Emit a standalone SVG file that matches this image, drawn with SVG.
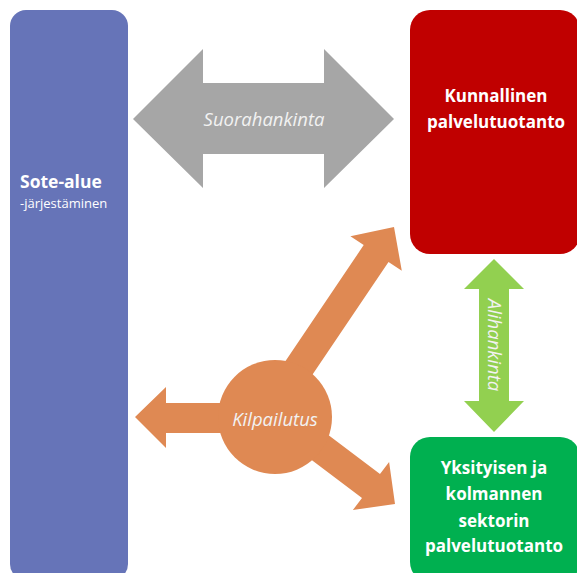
<svg xmlns="http://www.w3.org/2000/svg" width="577" height="573" viewBox="0 0 577 573">
<style>
.t{font-family:"Open Sans","Liberation Sans",sans-serif;fill:#fff}
.b{font-weight:bold;font-size:17px}
.i{font-style:italic;font-size:18.5px;fill:#f2f2f2}
</style>
<rect width="577" height="573" fill="#fff"/>
<g id="sote">
<rect x="10" y="10" width="118" height="570" rx="16" fill="#6674b8"/>
<text class="t b" x="20" y="188" style="font-size:17.5px">Sote-alue</text>
<text class="t" x="20" y="208" font-size="13">-järjestäminen</text>
</g>
<g id="kunnallinen">
<rect x="410" y="10" width="170" height="244" rx="20" fill="#c00000"/>
<text class="t b" text-anchor="middle" x="496" y="102">Kunnallinen</text>
<text class="t b" text-anchor="middle" x="496" y="128">palvelutuotanto</text>
</g>
<g id="yksityinen">
<rect x="410" y="437" width="170" height="145" rx="20" fill="#00b050"/>
<text class="t b" text-anchor="middle" x="494" y="474">Yksityisen ja</text>
<text class="t b" text-anchor="middle" x="494" y="500">kolmannen</text>
<text class="t b" text-anchor="middle" x="494" y="527">sektorin</text>
<text class="t b" text-anchor="middle" x="494" y="552">palvelutuotanto</text>
</g>
<g id="connectors">
<g id="suorahankinta">
<polygon points="133,119 203,49 203,83 324,83 324,49 394,119 324,188 324,154 203,154 203,188" fill="#a6a6a6"/>
<text class="t i" text-anchor="middle" x="264" y="126">Suorahankinta</text>
</g>
<g id="alihankinta">
<polygon points="494,259 524,289 509,289 509,401 524,401 494,432 464,401 479,401 479,289 464,289" fill="#92d050"/>
<text class="t i" text-anchor="middle" transform="translate(488,345) rotate(90)" x="0" y="0">Alihankinta</text>
</g>
<g id="kilpailutus" fill="#df8953">
<polygon points="135,417 166,387 166,403 275,403 275,433 166,433 166,448"/>
<polygon points="263.1,394.3 363.7,245.1 350.4,236.2 394,227 401.8,270.8 388.5,261.9 287.9,411.1"/>
<polygon points="260.1,383.6 380,473.9 389.1,461.9 395,504 352.9,509.9 362,497.9 242.1,407.6"/>
<circle cx="275" cy="417" r="57"/>
<text class="t i" text-anchor="middle" x="275" y="426">Kilpailutus</text>
</g>
</g>
</svg>
